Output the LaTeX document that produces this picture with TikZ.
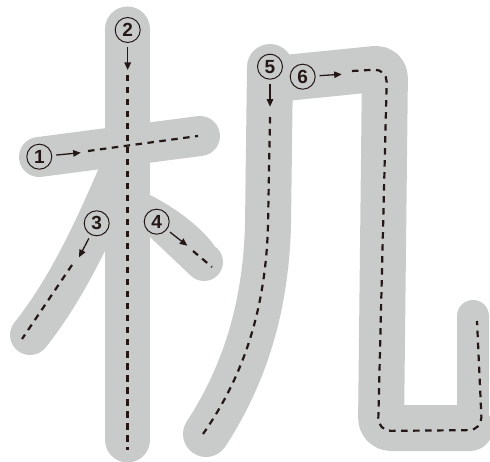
\documentclass[tikz,border=0pt]{standalone}
\usepackage{fontspec}
\newfontfamily\numfont{Liberation Sans}
\usetikzlibrary{arrows.meta}
\definecolor{kgray}{HTML}{C9CACA}
\definecolor{kink}{HTML}{231815}

\begin{document}
\begin{tikzpicture}[x=1pt,y=-1pt,
  brush/.style={draw=kgray,line width=#1,line cap=round,line join=round},
  guide/.style={draw=kink,line width=2.2pt,dash pattern=on 6.5pt off 5.5pt},
  num/.style={circle,draw=kink,line width=1pt,minimum size=25pt,inner sep=0pt,text=kink,
    font=\numfont\bfseries\fontsize{19}{19}\selectfont},
  numarrow/.style={draw=kink,line width=1.3pt,-{Triangle[length=7.5pt,width=6.5pt]},shorten <=4pt}]
\clip (0,0) rectangle (490,462);
% left part (木): gray strokes
\draw[brush=40pt] (39,157) -- (200,136);
\draw[brush=45pt] (127.5,29) -- (127.5,440);
\draw[brush=40pt] (119,172) .. controls (98,220) and (70,285) .. (30,335);
% dot, widening to its end
\fill[kgray] (140,188) -- (150,195) .. controls (178,209) and (204,230) .. (214.7,246.3)
  -- (190.2,275.1) -- (150,237) -- (140,230) -- cycle;
\fill[kgray] (204,262) circle[radius=19pt];
% right part (几): gray strokes
\draw[brush=46pt] (270,67) -- (268,225) .. controls (266,300) and (248,370) .. (206,434);
\draw[brush=46pt,rounded corners=10pt] (285,78) -- (385,68) -- (381,428) -- (470,428);
\draw[brush=32pt] (473,428) -- (473,316);
% dashed guides
\draw[guide] (88,151) -- (198,136);
\draw[guide] (127.5,75) -- (127.5,450);
\draw[guide] (72,265) -- (22,339);
\draw[guide] (193,251) -- (212,267);
\draw[guide] (270,117) -- (268,225) .. controls (266,300) and (248,370) .. (203,434);
\draw[guide,rounded corners=13pt] (352,71) -- (387,69) -- (378,431) -- (482,430) -- (477,321);
% stroke order numbers
\node[num] (n1) at (39.3,156.7) {1};
\node[num] (n2) at (127.7,30) {2};
\node[num] (n3) at (96.7,223.3) {3};
\node[num] (n4) at (156.7,221.7) {4};
\node[num] (n5) at (270,66.7) {5};
\node[num] (n6) at (302.7,76.7) {6};
\coordinate (t1) at (80.7,152.7);
\coordinate (t2) at (127.7,70);
\coordinate (t3) at (79,257.3);
\coordinate (t4) at (187.3,245.7);
\coordinate (t5) at (270,106.7);
\coordinate (t6) at (341.7,74.3);
\foreach \i in {1,...,6}
  \draw[numarrow] (n\i) -- (t\i);
\end{tikzpicture}
\end{document}
